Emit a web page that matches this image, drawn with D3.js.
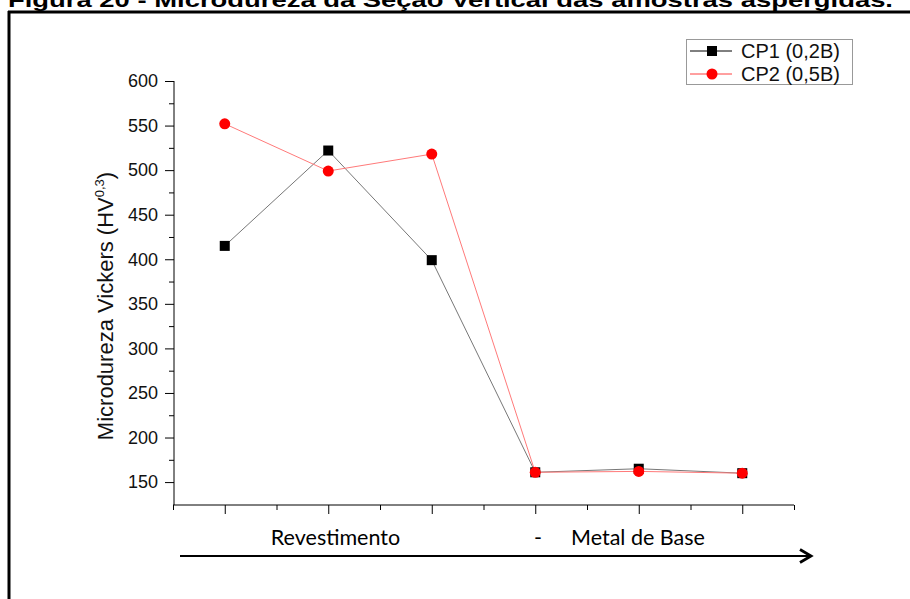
<!DOCTYPE html>
<html><head><meta charset="utf-8">
<script src="https://cdn.jsdelivr.net/npm/d3@7"></script>
<style>body{margin:0;background:#fff}svg{display:block}</style>
</head><body>
<script>
const positions = [1, 2, 3, 4, 5, 6];
const cp1 = [415, 522, 399, 161, 165, 160];
const cp2 = [552, 499, 518, 161, 162, 160];
const yTicks = [150, 200, 250, 300, 350, 400, 450, 500, 550, 600];
const seriesNames = ["CP1 (0,2B)", "CP2 (0,5B)"];
const title = "Figura 20 - Microdureza da Seção Vertical das amostras aspergidas.";

const W = 910, H = 599;
const svg = d3.select("body").append("svg").attr("width", W).attr("height", H);

// title (cut off at top, as in the reference)
svg.append("text").attr("x", 8).attr("y", 7)
  .attr("font-family", "Liberation Sans, Arial, sans-serif").attr("font-weight", "bold")
  .attr("font-size", 20).attr("textLength", 885).attr("lengthAdjust", "spacingAndGlyphs")
  .text(title);

// frame
svg.append("line").attr("x1", 8).attr("x2", W).attr("y1", 12).attr("y2", 12).attr("stroke", "#000").attr("stroke-width", 3);
svg.append("line").attr("x1", 9).attr("x2", 9).attr("y1", 11).attr("y2", H).attr("stroke", "#000").attr("stroke-width", 3);

const x = d3.scaleLinear().domain([0.5, 6.5]).range([173, 794]);
const y = d3.scaleLinear().domain([124.3, 600]).range([505, 81]);

const font = "Liberation Sans, Arial, sans-serif";

// Y axis
const yAxis = d3.axisLeft(y).tickValues(yTicks).tickSize(9).tickPadding(7);
const gy = svg.append("g").attr("transform", "translate(174,0)").call(yAxis);
gy.select(".domain").attr("d", `M0,${y(600)}V${y(124.3)}`).attr("stroke", "#000");
gy.selectAll("text").attr("font-family", font).attr("font-size", 18).attr("fill", "#111");
const yMinor = d3.axisLeft(y).tickValues(d3.range(175, 600, 50)).tickSize(5).tickFormat("");
svg.append("g").attr("transform", "translate(174,0)").call(yMinor).select(".domain").remove();

// X axis
const xAxis = d3.axisBottom(x).tickValues(positions).tickSize(9).tickFormat("");
const gx = svg.append("g").attr("transform", "translate(0,505)").call(xAxis);
gx.select(".domain").attr("d", `M${x(0.5)},0H${x(6.5)}`).attr("stroke", "#000");
const xMinor = d3.axisBottom(x).tickValues([0.5, 1.5, 2.5, 3.5, 4.5, 5.5, 6.5]).tickSize(5).tickFormat("");
svg.append("g").attr("transform", "translate(0,505)").call(xMinor).select(".domain").remove();

// Y label
const yl = svg.append("text").attr("transform", "translate(113,306) rotate(-90)")
  .attr("text-anchor", "middle").attr("font-family", font).attr("font-size", 22).attr("fill", "#111");
yl.append("tspan").text("Microdureza Vickers (HV");
yl.append("tspan").attr("font-size", 13).attr("dy", -9).text("0,3");
yl.append("tspan").attr("dy", 9).text(")");

// lines
const line = d3.line().x((d, i) => x(positions[i])).y(d => y(d));
svg.append("path").datum(cp1).attr("d", line).attr("fill", "none").attr("stroke", "#777").attr("stroke-width", 1);
svg.append("path").datum(cp2).attr("d", line).attr("fill", "none").attr("stroke", "#ff7a7a").attr("stroke-width", 1);

// markers
svg.selectAll(".sq").data(cp1).enter().append("rect")
  .attr("x", (d, i) => x(positions[i]) - 5).attr("y", d => y(d) - 5)
  .attr("width", 10).attr("height", 10).attr("fill", "#000");
svg.selectAll(".ci").data(cp2).enter().append("circle")
  .attr("cx", (d, i) => x(positions[i])).attr("cy", d => y(d)).attr("r", 5.5).attr("fill", "#ff0000");

// legend
const lg = svg.append("g");
lg.append("rect").attr("x", 686.5).attr("y", 39.5).attr("width", 166).attr("height", 45)
  .attr("fill", "#fff").attr("stroke", "#999").attr("stroke-width", 1);
const rows = [51, 74];
lg.append("line").attr("x1", 690).attr("x2", 732).attr("y1", rows[0]).attr("y2", rows[0]).attr("stroke", "#000");
lg.append("rect").attr("x", 707).attr("y", rows[0] - 5).attr("width", 10).attr("height", 10).attr("fill", "#000");
lg.append("line").attr("x1", 690).attr("x2", 732).attr("y1", rows[1]).attr("y2", rows[1]).attr("stroke", "#ff4040");
lg.append("circle").attr("cx", 712).attr("cy", rows[1]).attr("r", 5.5).attr("fill", "#ff0000");
seriesNames.forEach((n, i) => {
  lg.append("text").attr("x", 741).attr("y", rows[i] + 7).attr("font-family", font)
    .attr("font-size", 20).attr("fill", "#111").text(n);
});

// bottom annotations
const cfont = "Lato, Open Sans, sans-serif";
svg.append("text").attr("x", 335.5).attr("y", 545).attr("text-anchor", "middle")
  .attr("font-family", cfont).attr("font-size", 21.5).attr("fill", "#000").text("Revestimento");
svg.append("text").attr("x", 538).attr("y", 545).attr("text-anchor", "middle")
  .attr("font-family", cfont).attr("font-size", 21.5).attr("fill", "#000").text("-");
svg.append("text").attr("x", 638).attr("y", 545).attr("text-anchor", "middle")
  .attr("font-family", cfont).attr("font-size", 21.5).attr("fill", "#000").text("Metal de Base");

// arrow
svg.append("line").attr("x1", 180).attr("x2", 810).attr("y1", 556).attr("y2", 556).attr("stroke", "#000").attr("stroke-width", 2.2);
svg.append("path").attr("d", "M800,549.5L811,556L800,562.5").attr("fill", "none").attr("stroke", "#000").attr("stroke-width", 2.8);
</script>
</body></html>
